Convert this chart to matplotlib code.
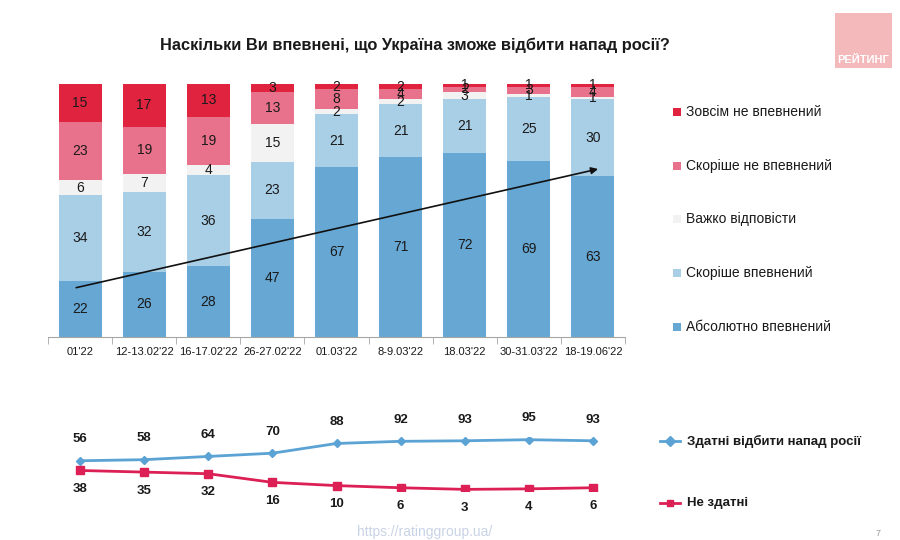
import matplotlib
matplotlib.use("Agg")
import matplotlib.pyplot as plt
from matplotlib.patches import Rectangle
import numpy as np

plt.rcParams['font.family'] = ['Liberation Sans', 'DejaVu Sans']

# --- data ---
dates = ["01'22", "12-13.02'22", "16-17.02'22", "26-27.02'22", "01.03'22",
         "8-9.03'22", "18.03'22", "30-31.03'22", "18-19.06'22"]
absolutely = [22, 26, 28, 47, 67, 71, 72, 69, 63]
rather_yes = [34, 32, 36, 23, 21, 21, 21, 25, 30]
hard_to_say = [6, 7, 4, 15, 2, 2, 3, 1, 1]
rather_not = [23, 19, 19, 13, 8, 4, 2, 3, 4]
not_at_all = [15, 17, 13, 3, 2, 2, 1, 1, 1]

able = [56, 58, 64, 70, 88, 92, 93, 95, 93]
not_able = [38, 35, 32, 16, 10, 6, 3, 4, 6]

series_names = ["Абсолютно впевнений", "Скоріше впевнений", "Важко відповісти",
                "Скоріше не впевнений", "Зовсім не впевнений"]
series_colors = ["#66a7d3", "#a9cfe7", "#f2f2f2", "#e8728b", "#e0233f"]
line_names = ["Здатні відбити напад росії", "Не здатні"]

fig = plt.figure(figsize=(9, 5.4), dpi=100)
fig.patch.set_facecolor("white")

# --- stacked bars (each column scaled to 100%) ---
ax = fig.add_axes([48 / 900, 1 - 337 / 540, 577 / 900, 253 / 540])
raw = [absolutely, rather_yes, hard_to_say, rather_not, not_at_all]
stack = np.array(raw, dtype=float)
stack = stack / stack.sum(axis=0) * 100
x = np.arange(len(dates))
bottom = np.zeros(len(dates))
for vals, raw_vals, color in zip(stack, raw, series_colors):
    ax.bar(x, vals, bottom=bottom, width=0.67, color=color, edgecolor="none")
    for xi, b, v, r in zip(x, bottom, vals, raw_vals):
        ax.text(xi, b + v / 2, str(r), ha="center", va="center",
                fontsize=10, color="#1a1a1a")
    bottom += vals

ax.set_xlim(-0.5, len(dates) - 0.5)
ax.set_ylim(0, 100)
for s in ["top", "right", "left"]:
    ax.spines[s].set_visible(False)
ax.spines["bottom"].set_color("#a6a6a6")
ax.set_yticks([])
ax.set_xticks(x)
ax.set_xticklabels(dates, fontsize=8, color="#1a1a1a")
ax.tick_params(axis="x", which="major", length=0, pad=7)
ax.set_xticks(np.arange(-0.5, len(dates)), minor=True)
ax.tick_params(axis="x", which="minor", length=5, color="#a6a6a6")

# trend arrow
ax.annotate("", xy=(8.08, 66.4), xytext=(-0.06, 19.5),
            arrowprops=dict(arrowstyle="-|>", color="#111111", lw=1.2,
                            mutation_scale=10, shrinkA=0, shrinkB=0))

# legend for bars (top to bottom)
leg_y = [112, 166, 219, 273, 327]
for name, color, yy in zip(series_names[::-1], series_colors[::-1], leg_y):
    fig.add_artist(Rectangle((673 / 900, 1 - (yy + 4) / 540), 8 / 900, 8 / 540,
                             transform=fig.transFigure, color=color, lw=0))
    fig.text(686 / 900, 1 - yy / 540, name, ha="left", va="center",
             fontsize=10, color="#1a1a1a")

# --- lines ---
ax2 = fig.add_axes([48 / 900, 1 - 491 / 540, 577 / 900, 54 / 540])
ax2.plot(x, able, color="#5ba3d4", lw=2, marker="D", ms=4.5,
         markerfacecolor="#5ba3d4", markeredgecolor="#5ba3d4")
ax2.plot(x, not_able, color="#dc2055", lw=2, marker="s", ms=5.5,
         markerfacecolor="#dc2055", markeredgecolor="#dc2055")
for xi, a, n in zip(x, able, not_able):
    ax2.annotate(str(a), (xi, a), xytext=(0, 11), textcoords="offset points",
                 ha="center", va="bottom", fontsize=9.5, fontweight="bold", color="#1a1a1a")
    ax2.annotate(str(n), (xi, n), xytext=(0, -9), textcoords="offset points",
                 ha="center", va="top", fontsize=9.5, fontweight="bold", color="#1a1a1a")
ax2.set_xlim(-0.5, len(dates) - 0.5)
ax2.set_ylim(0, 100)
ax2.axis("off")

# line legend
for name, color, mk, yy in zip(line_names, ["#5ba3d4", "#dc2055"], ["D", "s"], [441, 503]):
    fy = 1 - yy / 540
    fig.add_artist(plt.Line2D([660 / 900, 680 / 900], [fy, fy], color=color, lw=2,
                              transform=fig.transFigure))
    fig.add_artist(plt.Line2D([670 / 900], [fy], color=color, marker=mk, ms=5,
                              transform=fig.transFigure))
    fig.text(687 / 900, fy, name, ha="left", va="center", fontsize=9.5,
             fontweight="bold", color="#1a1a1a")

# title
fig.text(415 / 900, 1 - 45 / 540, "Наскільки Ви впевнені, що Україна зможе відбити напад росії?",
         ha="center", va="center", fontsize=11.8, fontweight="bold", color="#1a1a1a")

# logo
fig.add_artist(Rectangle((835 / 900, 1 - 68 / 540), 57 / 900, 55 / 540,
                         transform=fig.transFigure, color="#f3b9bb", lw=0))
fig.text(863 / 900, 1 - 60 / 540, "РЕЙТИНГ", ha="center", va="center",
         fontsize=8, fontweight="bold", color="white")

# footer
fig.text(425 / 900, 1 - 532 / 540, "https://ratinggroup.ua/", ha="center", va="center",
         fontsize=10, color="#c9d3e6")
fig.text(878 / 900, 1 - 534 / 540, "7", ha="center", va="center", fontsize=6.5, color="#999999")

fig.savefig("out.png", dpi=100)
